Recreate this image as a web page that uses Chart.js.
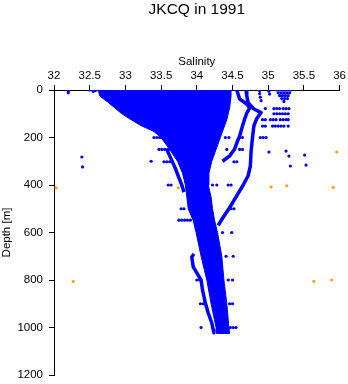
<!DOCTYPE html>
<html>
<head>
<meta charset="utf-8">
<title>JKCQ in 1991</title>
<script src="https://cdn.jsdelivr.net/npm/chart.js@4/dist/chart.umd.min.js"></script>
<style>
  html, body { margin: 0; padding: 0; background: #fff; }
</style>
</head>
<body>
<canvas id="myChart" width="348" height="384"></canvas>
<script>
// Outer edges of the dense band of salinity profiles (salinity vs depth in m)
var bandDepth = [0, 25, 50, 75, 100, 125, 150, 175, 200, 250, 300, 350, 400, 450, 500, 550, 600, 700, 800, 900, 1000, 1025];
var bandLeft  = [32.62, 32.64, 32.75, 32.85, 32.95, 33.08, 33.22, 33.4, 33.5, 33.62, 33.73, 33.8, 33.84, 33.86, 33.88, 33.95, 33.99, 34.06, 34.14, 34.2, 34.27, 34.28];
var bandRight = [34.48, 34.48, 34.47, 34.46, 34.44, 34.42, 34.39, 34.36, 34.33, 34.27, 34.21, 34.17, 34.16, 34.2, 34.22, 34.25, 34.29, 34.35, 34.38, 34.42, 34.45, 34.46];

// Single profiles that run outside the band
var outerDepth = [0, 25, 55, 80, 95, 120, 150, 200, 260, 320, 360, 400, 450, 500, 540, 570];
var outerSal   = [34.69, 34.7, 34.72, 34.8, 34.9, 34.84, 34.8, 34.78, 34.76, 34.75, 34.72, 34.65, 34.55, 34.45, 34.36, 34.3];
var innerDepth = [0, 38, 59, 76, 97, 122, 152, 194, 215, 248, 278, 300];
var innerSal   = [34.56, 34.6, 34.7, 34.74, 34.7, 34.67, 34.64, 34.6, 34.57, 34.53, 34.46, 34.36];
var upperLeftDepth = [250, 290, 330, 370, 400, 430];
var upperLeftSal   = [33.58, 33.64, 33.7, 33.75, 33.79, 33.82];
var lowerLeftDepth = [690, 703, 745, 770, 800, 842, 897, 939, 981, 1010, 1022];
var lowerLeftSal   = [33.96, 33.93, 33.95, 34.0, 34.06, 34.08, 34.12, 34.16, 34.21, 34.23, 34.24];

// Scattered samples [salinity, depth]
var blueDots = [
  [32.2, 4], [32.2, 12], [32.5, 0], [32.55, 6], [32.58, 2],
  [34.88, 3], [34.88, 15], [34.89, 30], [34.9, 45], [35.01, 5], [35.02, 17],
  [35.12, 0], [35.16, 0], [35.2, 0], [35.24, 0], [35.28, 0], [35.32, 0],
  [35.14, 12], [35.18, 12], [35.22, 12], [35.26, 12], [35.3, 12],
  [35.16, 24], [35.2, 24], [35.24, 24], [35.28, 24],
  [35.19, 36], [35.23, 36], [35.27, 36], [35.22, 48],
  [34.96, 78], [35.08, 78], [35.12, 78], [35.16, 78], [35.21, 78], [35.25, 78], [35.29, 78],
  [35.08, 100], [35.12, 100], [35.16, 100], [35.2, 100], [35.24, 100], [35.28, 100],
  [34.92, 125], [34.96, 125], [35.03, 125], [35.07, 125], [35.11, 125], [35.17, 125], [35.21, 125], [35.25, 125], [35.28, 125],
  [34.92, 152], [34.96, 152], [35.06, 152], [35.1, 152], [35.14, 152], [35.18, 152], [35.22, 152], [35.28, 152],
  [34.4, 200], [34.45, 200], [34.6, 200], [34.64, 200], [34.89, 200], [34.93, 200], [34.97, 200],
  [34.42, 250], [34.6, 250], [34.64, 250], [35.01, 261], [35.25, 257], [35.29, 278], [35.51, 274],
  [34.52, 302], [34.56, 302], [35.31, 320], [35.53, 316], [32.39, 282], [32.4, 324],
  [33.4, 200], [33.44, 200], [33.48, 200], [33.52, 200], [33.56, 200],
  [33.47, 250], [33.51, 250], [33.55, 250], [33.59, 250], [33.63, 250],
  [33.36, 300], [33.54, 302], [33.58, 302], [33.62, 302], [33.66, 302],
  [33.6, 400], [33.64, 400], [34.22, 400], [34.28, 400], [34.44, 400], [34.48, 400],
  [33.78, 500], [33.82, 500], [34.48, 500], [34.52, 500],
  [33.75, 548], [33.79, 548], [33.83, 548], [33.87, 548], [33.91, 548],
  [34.36, 600], [34.49, 600], [34.41, 700], [34.51, 700],
  [34.0, 800], [34.04, 800], [34.44, 800], [34.5, 800],
  [34.05, 900], [34.09, 900], [34.46, 900], [34.5, 900],
  [34.06, 1000], [34.47, 1000], [34.51, 1000], [34.55, 1000]
];
var orangeDots = [
  [32.03, 412], [33.74, 412], [33.79, 404], [35.04, 408], [35.26, 404], [35.91, 410],
  [35.96, 261], [32.27, 806], [34.18, 800], [34.21, 796], [35.64, 806], [35.89, 800]
];

var salTicks = [32, 32.5, 33, 33.5, 34, 34.5, 35, 35.5, 36];
var depthTicks = [0, 200, 400, 600, 800, 1000, 1200];

var BLUE = '#0000ff';
var ORANGE = '#ffa500';

function profile(sal, depth) {
  return sal.map(function (s, i) { return { x: s, y: depth[i] }; });
}
function dots(list) {
  return list.map(function (p) { return { x: p[0], y: p[1] }; });
}
function lineSet(sal, depth) {
  return { data: profile(sal, depth), borderColor: BLUE, borderWidth: 3.5, borderJoinStyle: 'round',
           pointRadius: 0, fill: false };
}

// band outline: down the left edge, back up the right edge
var bandOutline = profile(bandLeft, bandDepth).concat(profile(bandRight, bandDepth).reverse());

Chart.defaults.font.family = "'Liberation Sans', Arial, sans-serif";
Chart.defaults.color = '#000';

var ctx = document.getElementById('myChart').getContext('2d');
var chart = new Chart(ctx, {
  type: 'line',
  data: {
    datasets: [
      { data: bandOutline, borderColor: BLUE, borderWidth: 1, pointRadius: 0, backgroundColor: BLUE, fill: 'shape' },
      lineSet(outerSal, outerDepth),
      lineSet(innerSal, innerDepth),
      lineSet(upperLeftSal, upperLeftDepth),
      lineSet(lowerLeftSal, lowerLeftDepth),
      { data: dots(blueDots), showLine: false, pointRadius: 1.6, borderWidth: 0, backgroundColor: BLUE },
      { data: dots(orangeDots), showLine: false, pointRadius: 1.6, borderWidth: 0, backgroundColor: ORANGE }
    ]
  },
  options: {
    responsive: false,
    animation: false,
    events: [],
    layout: { padding: { top: 0, right: 8, bottom: 9, left: 0 } },
    plugins: {
      legend: { display: false },
      tooltip: { enabled: false },
      title: {
        display: true,
        fullSize: false,
        text: 'JKCQ in 1991',
        color: '#000',
        font: { size: 15.5, weight: 'normal' },
        padding: { top: 0, bottom: 0 }
      }
    },
    scales: {
      x: {
        type: 'linear',
        position: 'top',
        min: 32,
        max: 36,
        z: 1,
        afterBuildTicks: function (s) { s.ticks = salTicks.map(function (v) { return { value: v }; }); },
        afterFit: function (s) { s.height = 71.4; },
        ticks: { padding: 2, font: { size: 11.5 }, maxRotation: 0, autoSkip: false,
                 callback: function (v) { return String(v); } },
        grid: { drawOnChartArea: false, tickLength: 5, color: '#000' },
        border: { color: '#000' },
        title: { display: true, text: 'Salinity', font: { size: 11.5 }, padding: { top: 36, bottom: 0 } }
      },
      y: {
        type: 'linear',
        reverse: true,
        min: 0,
        max: 1200,
        z: 1,
        afterBuildTicks: function (s) { s.ticks = depthTicks.map(function (v) { return { value: v }; }); },
        afterFit: function (s) { s.width = 54; s.paddingTop = 0; s.paddingBottom = 0; },
        ticks: { padding: 6, font: { size: 11.5 }, autoSkip: false,
                 callback: function (v) { return String(v); } },
        grid: { drawOnChartArea: false, tickLength: 5, color: '#000' },
        border: { color: '#000' },
        title: { display: true, text: 'Depth [m]', font: { size: 11.5 }, padding: { top: 0, bottom: 0 } }
      }
    }
  }
});
</script>
</body>
</html>
